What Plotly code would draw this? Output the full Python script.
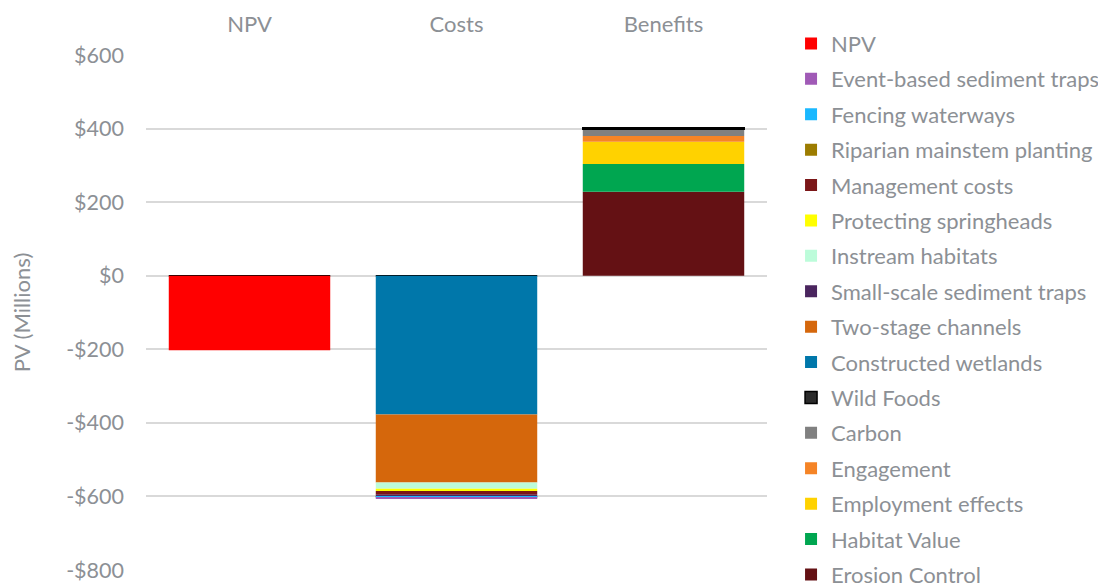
import plotly.graph_objects as go

categories = ["NPV", "Costs", "Benefits"]

# Series values (PV, $ millions) per category [NPV, Costs, Benefits]
erosion_control = [0, 0, 228]
habitat_value = [0, 0, 76]
employment_effects = [0, 0, 60]
engagement = [0, 0, 16]
carbon = [0, 0, 18]
wild_foods = [0, 0, 4.5]
constructed_wetlands = [0, -377, 0]
two_stage_channels = [0, -185, 0]
instream_habitats = [0, -17, 0]
protecting_springheads = [0, -6.5, 0]
management_costs = [0, -10, 0]
small_scale_traps = [0, -5.5, 0]
riparian_planting = [0, -0.5, 0]
fencing_waterways = [0, -0.5, 0]
event_based_traps = [0, -3, 0]
npv = [-202.5, 0, 0]

tick_vals = [-800, -600, -400, -200, 0, 200, 400, 600]
tick_text = ["-$800", "-$600", "-$400", "-$200", "$0", "$200", "$400", "$600"]

# (name, values, color, legend rank) in stacking order
series = [
    ("Erosion Control", erosion_control, "#641114", 16),
    ("Habitat Value", habitat_value, "#00A650", 15),
    ("Employment effects", employment_effects, "#FFD200", 14),
    ("Engagement", engagement, "#F58426", 13),
    ("Carbon", carbon, "#808080", 12),
    ("Wild Foods", wild_foods, "#2B2B2B", 11),
    ("Constructed wetlands", constructed_wetlands, "#0077AA", 10),
    ("Two-stage channels", two_stage_channels, "#D5670C", 9),
    ("Instream habitats", instream_habitats, "#BCFCDA", 7),
    ("Protecting springheads", protecting_springheads, "#FFFF00", 6),
    ("Management costs", management_costs, "#7B1618", 5),
    ("Small-scale sediment traps", small_scale_traps, "#4A255E", 8),
    ("Riparian mainstem planting", riparian_planting, "#9C7C00", 4),
    ("Fencing waterways", fencing_waterways, "#1AB8FF", 3),
    ("Event-based sediment traps", event_based_traps, "#A05AB6", 2),
    ("NPV", npv, "#FF0000", 1),
]

GRAY = "#8C9095"
FONT = "Lato"

fig = go.Figure()
for name, vals, color, rank in series:
    line = dict(width=1.5, color="#000000") if name == "Wild Foods" else dict(width=0)
    fig.add_trace(go.Bar(
        x=categories, y=vals, name=name,
        marker=dict(color=color, line=line),
        legendrank=rank, legendgroup=name,
    ))

fig.update_layout(
    barmode="relative",
    bargap=0.22,
    width=1106, height=585,
    margin=dict(l=138, r=347, t=47, b=23),
    plot_bgcolor="white", paper_bgcolor="white",
    font=dict(family=FONT, size=22, color=GRAY),
    showlegend=True,
    legend=dict(
        xref="container", yref="container",
        x=0.708, y=0.975, xanchor="left", yanchor="top",
        font=dict(family=FONT, size=22, color=GRAY),
        tracegroupgap=3.8,
        traceorder="grouped",
        itemwidth=30,
        maxheight=1.0,
    ),
    xaxis=dict(
        side="top", showgrid=False, showline=False, ticks="",
        tickfont=dict(family=FONT, size=22, color=GRAY),
        ticklabelstandoff=18,
        automargin=False,
    ),
    yaxis=dict(
        range=[-800, 600],
        tickvals=tick_vals, ticktext=tick_text,
        showgrid=True, gridcolor="#D9D9D9", gridwidth=1.5,
        zeroline=True, zerolinecolor="#D9D9D9", zerolinewidth=1.5,
        showline=False, ticks="",
        tickfont=dict(family=FONT, size=21.5, color=GRAY),
        ticklabelstandoff=21,
        automargin=False,
        title=dict(text="PV (Millions)", font=dict(family=FONT, size=22, color=GRAY), standoff=33),
    ),
)

fig.write_html("out.html")
